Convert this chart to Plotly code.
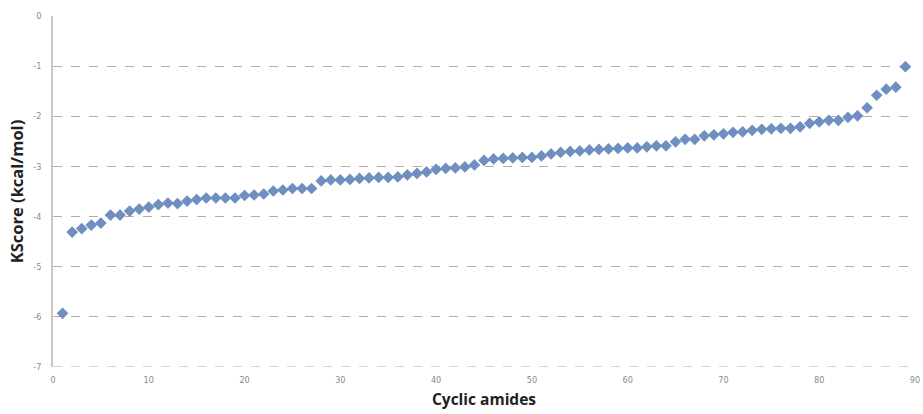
import plotly.graph_objects as go

compound_index = list(range(1, 90))
kscore = [
    -5.93, -4.31, -4.24, -4.17, -4.13, -3.97, -3.97, -3.89, -3.85, -3.81,
    -3.76, -3.73, -3.74, -3.69, -3.66, -3.63, -3.63, -3.63, -3.63, -3.58,
    -3.57, -3.55, -3.49, -3.47, -3.44, -3.44, -3.44, -3.29, -3.27, -3.27,
    -3.26, -3.24, -3.23, -3.22, -3.22, -3.21, -3.17, -3.14, -3.11, -3.06,
    -3.04, -3.03, -3.01, -2.97, -2.88, -2.85, -2.84, -2.83, -2.82, -2.82,
    -2.79, -2.75, -2.72, -2.70, -2.69, -2.67, -2.66, -2.65, -2.64, -2.63,
    -2.63, -2.61, -2.59, -2.59, -2.51, -2.46, -2.46, -2.39, -2.37, -2.35,
    -2.32, -2.31, -2.28, -2.26, -2.25, -2.24, -2.24, -2.21, -2.14, -2.11,
    -2.08, -2.08, -2.02, -1.99, -1.83, -1.58, -1.46, -1.42, -1.01,
]
x_ticks = [0, 10, 20, 30, 40, 50, 60, 70, 80, 90]
y_ticks = [0, -1, -2, -3, -4, -5, -6, -7]

fig = go.Figure()
fig.add_trace(go.Scatter(
    x=compound_index, y=kscore, mode="markers",
    marker=dict(symbol="diamond", size=9, color="#6f8fc0",
                line=dict(width=0)),
    showlegend=False, cliponaxis=False,
))

tick_font = dict(family="DejaVu Sans Condensed, Liberation Sans Narrow, Roboto", size=9, color="#8a8a8a")

# dashed baseline along the bottom edge of the plot area (as in the original)
fig.add_shape(type="line", xref="paper", yref="y", x0=0, x1=1, y0=min(y_ticks), y1=min(y_ticks),
              line=dict(color="#b5aca8", width=1, dash="dash"), layer="below")

fig.update_layout(
    width=923, height=414,
    margin=dict(l=53, r=8, t=16, b=47, autoexpand=False),
    paper_bgcolor="white", plot_bgcolor="white",
    xaxis=dict(
        range=[0, 90], tickvals=x_ticks, ticktext=[str(v) for v in x_ticks],
        showgrid=False, zeroline=False, showline=False,
        tickfont=tick_font, ticks="", ticklabelstandoff=6, automargin=False,
        ticklabeloverflow="allow",
        title=dict(text="<b>Cyclic amides</b>",
                   font=dict(family="Open Sans, Lato, sans-serif", size=15.5, color="#222222"),
                   standoff=10),
    ),
    yaxis=dict(
        range=[-7, 0], tickvals=y_ticks, ticktext=[str(v) for v in y_ticks],
        showgrid=True, gridcolor="#b5aca8", griddash="dash", gridwidth=1,
        zeroline=False, showline=True, linecolor="#cfc6c3", linewidth=1.5,
        tickfont=tick_font, ticks="", ticklabelstandoff=8, automargin=False,
        title=dict(text="<b>KScore (kcal/mol)</b>",
                   font=dict(family="Open Sans, Lato, sans-serif", size=16.5, color="#222222"),
                   standoff=6),
    ),
)

fig.write_html("out.html", config={"displayModeBar": False},
               post_script="document.body.style.margin='0';")
